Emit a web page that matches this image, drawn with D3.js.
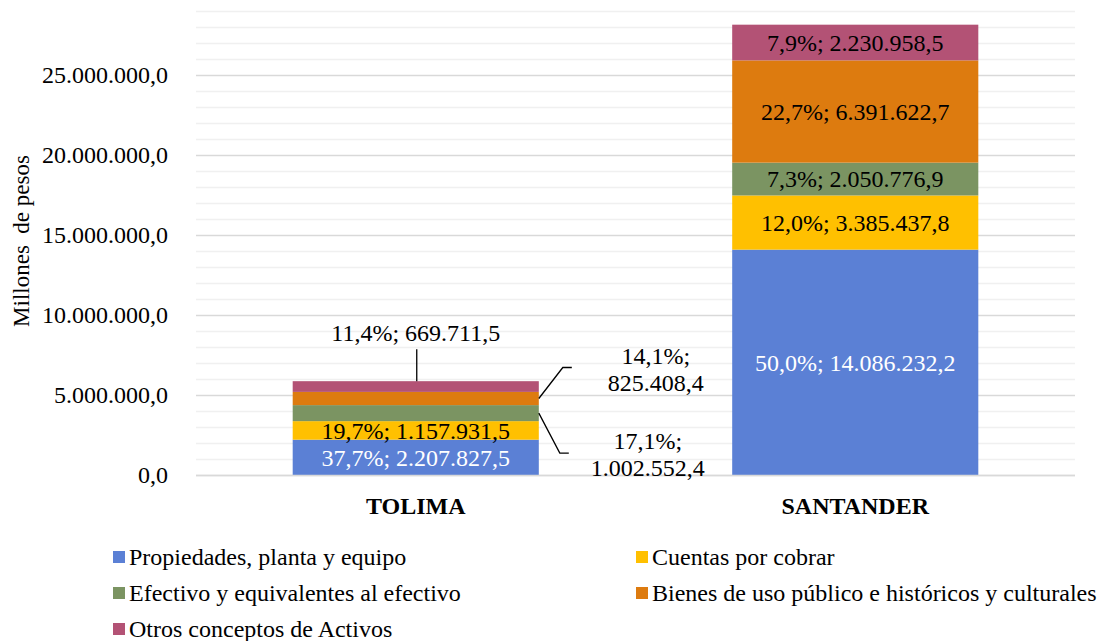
<!DOCTYPE html>
<meta charset="utf-8">
<title>Activos TOLIMA y SANTANDER</title>
<script src="https://d3js.org/d3.v7.min.js"></script>
<style>
  body { margin: 0; background: #fff; }
  svg text { font-family: "Liberation Serif", "Times New Roman", serif !important; }
</style>
<body>
<svg width="1120" height="641"></svg>
<script>

// Data
var regions = ["TOLIMA", "SANTANDER"];
var seriesNames = [
  "Propiedades, planta y equipo",
  "Cuentas por cobrar",
  "Efectivo y equivalentes al efectivo",
  "Bienes de uso público e históricos y culturales",
  "Otros conceptos de Activos"
];
var seriesColors = ["#5b80d5", "#ffc000", "#7b9462", "#dd7b0f", "#b35275"];
var tolimaValues = [2207827.5, 1157931.5, 1002552.4, 825408.4, 669711.5];
var tolimaPct = ["37,7%", "19,7%", "17,1%", "14,1%", "11,4%"];
var santanderValues = [14086232.2, 3385437.8, 2050776.9, 6391622.7, 2230958.5];
var santanderPct = ["50,0%", "12,0%", "7,3%", "22,7%", "7,9%"];
var yTicks = [0, 5000000, 10000000, 15000000, 20000000, 25000000];

var svg = d3.select("svg");

var x = d3.scaleBand()
    .domain(regions)
    .range([196, 1075])
    .paddingInner(0.44)
    .paddingOuter(0.22);

var y = d3.scaleLinear()
    .domain([0, 25000000])
    .range([475, 75]);

// number format: 1.234.567,8
var locale = d3.formatLocale({decimal: ",", thousands: ".", grouping: [3], currency: ["", ""]});
var fmt = locale.format(",.1f");

// minor gridlines every million
svg.append("g").selectAll("line")
  .data(d3.range(1000000, 30000000, 1000000).filter(function(v) { return v % 5000000 !== 0; }))
  .enter().append("line")
    .attr("x1", 196).attr("x2", 1075)
    .attr("y1", function(d) { return Math.round(y(d)) + 0.5; })
    .attr("y2", function(d) { return Math.round(y(d)) + 0.5; })
    .attr("stroke", "#f0f0f0")
    .attr("stroke-width", 1.5);

// major gridlines + y axis labels
var yAxis = d3.axisLeft(y)
    .tickValues(yTicks)
    .tickSize(-879)
    .tickPadding(28)
    .tickFormat(fmt);

var yg = svg.append("g")
    .attr("transform", "translate(196,0)")
    .call(yAxis);
yg.select(".domain").remove();
yg.selectAll(".tick line").attr("stroke", "#d9d9d9").attr("stroke-width", 1.5);
yg.selectAll(".tick text")
    .attr("fill", "#000")
    .style("font-size", "24px");

// axis title
svg.append("text")
    .attr("transform", "translate(29,241) rotate(-90)")
    .attr("text-anchor", "middle")
    .attr("xml:space", "preserve")
    .style("font-size", "23px")
    .text("Millones  de pesos");

// stack the data
var rows = regions.map(function(r, i) {
  var vals = i === 0 ? tolimaValues : santanderValues;
  var pcts = i === 0 ? tolimaPct : santanderPct;
  var o = {region: r};
  seriesNames.forEach(function(s, j) { o[s] = vals[j]; o[s + "_pct"] = pcts[j]; });
  return o;
});

var stacked = d3.stack().keys(seriesNames)(rows);

var layer = svg.append("g").selectAll("g")
  .data(stacked)
  .enter().append("g")
    .attr("fill", function(d, i) { return seriesColors[i]; });

layer.selectAll("rect")
  .data(function(d) { return d; })
  .enter().append("rect")
    .attr("x", function(d) { return x(d.data.region); })
    .attr("width", x.bandwidth())
    .attr("y", function(d) { return y(d[1]); })
    .attr("height", function(d) { return y(d[0]) - y(d[1]); });

// x axis baseline
svg.append("line")
    .attr("x1", 196).attr("x2", 1075)
    .attr("y1", y(0) + 0.5).attr("y2", y(0) + 0.5)
    .attr("stroke", "#d9d9d9").attr("stroke-width", 1.5);

// category labels
svg.append("g").selectAll("text")
  .data(regions)
  .enter().append("text")
    .attr("x", function(d) { return x(d) + x.bandwidth() / 2; })
    .attr("y", 514)
    .attr("text-anchor", "middle")
    .style("font-size", "24px")
    .style("font-weight", "bold")
    .text(function(d) { return d; });

// data labels
var labelG = svg.append("g").style("font-size", "24px");
stacked.forEach(function(s, j) {
  s.forEach(function(d, i) {
    var label = d.data[s.key + "_pct"] + "; " + fmt(d.data[s.key]);
    var cx = x(d.data.region) + x.bandwidth() / 2;
    var midY = (y(d[0]) + y(d[1])) / 2;
    var right = x(d.data.region) + x.bandwidth();
    if (i === 1 || j < 2) {
      // inside the segment
      labelG.append("text")
          .attr("x", cx)
          .attr("y", midY)
          .attr("dy", "0.35em")
          .attr("text-anchor", "middle")
          .attr("fill", j === 0 ? "#fff" : "#000")
          .text(label);
    } else if (j === 4) {
      // above the bar with a vertical leader
      labelG.append("line")
          .attr("x1", cx + 1).attr("x2", cx + 1)
          .attr("y1", y(d[1])).attr("y2", y(d[1]) - 32)
          .attr("stroke", "#000").attr("stroke-width", 1.3);
      labelG.append("text")
          .attr("x", cx)
          .attr("y", y(d[1]) - 40)
          .attr("text-anchor", "middle")
          .text(label);
    } else {
      // to the right with a bent leader
      var up = j === 3;
      var endY = up ? midY - 31 : midY + 40;
      labelG.append("polyline")
          .attr("points", [[right, midY], [right + (up ? 24 : 21), endY], [right + (up ? 33 : 30), endY]].join(" "))
          .attr("fill", "none")
          .attr("stroke", "#000").attr("stroke-width", 1.3);
      var lx = right + (up ? 117 : 109);
      var t = labelG.append("text")
          .attr("x", lx)
          .attr("y", endY - 4)
          .attr("text-anchor", "middle");
      t.append("tspan").attr("x", lx).text(d.data[s.key + "_pct"] + ";");
      t.append("tspan").attr("x", lx).attr("dy", 27).text(fmt(d.data[s.key]));
    }
  });
});

// legend
var legend = svg.append("g").selectAll("g")
  .data(seriesNames)
  .enter().append("g")
    .attr("transform", function(d, i) {
      return "translate(" + (i % 2 === 0 ? 113 : 636) + "," + (557 + Math.floor(i / 2) * 36) + ")";
    });

legend.append("rect")
    .attr("x", 0).attr("y", -6)
    .attr("width", 12).attr("height", 12)
    .attr("fill", function(d, i) { return seriesColors[i]; });

legend.append("text")
    .attr("x", 16)
    .attr("y", 0)
    .attr("dy", "0.33em")
    .style("font-size", "24px")
    .text(function(d) { return d; });

</script>
</body>
